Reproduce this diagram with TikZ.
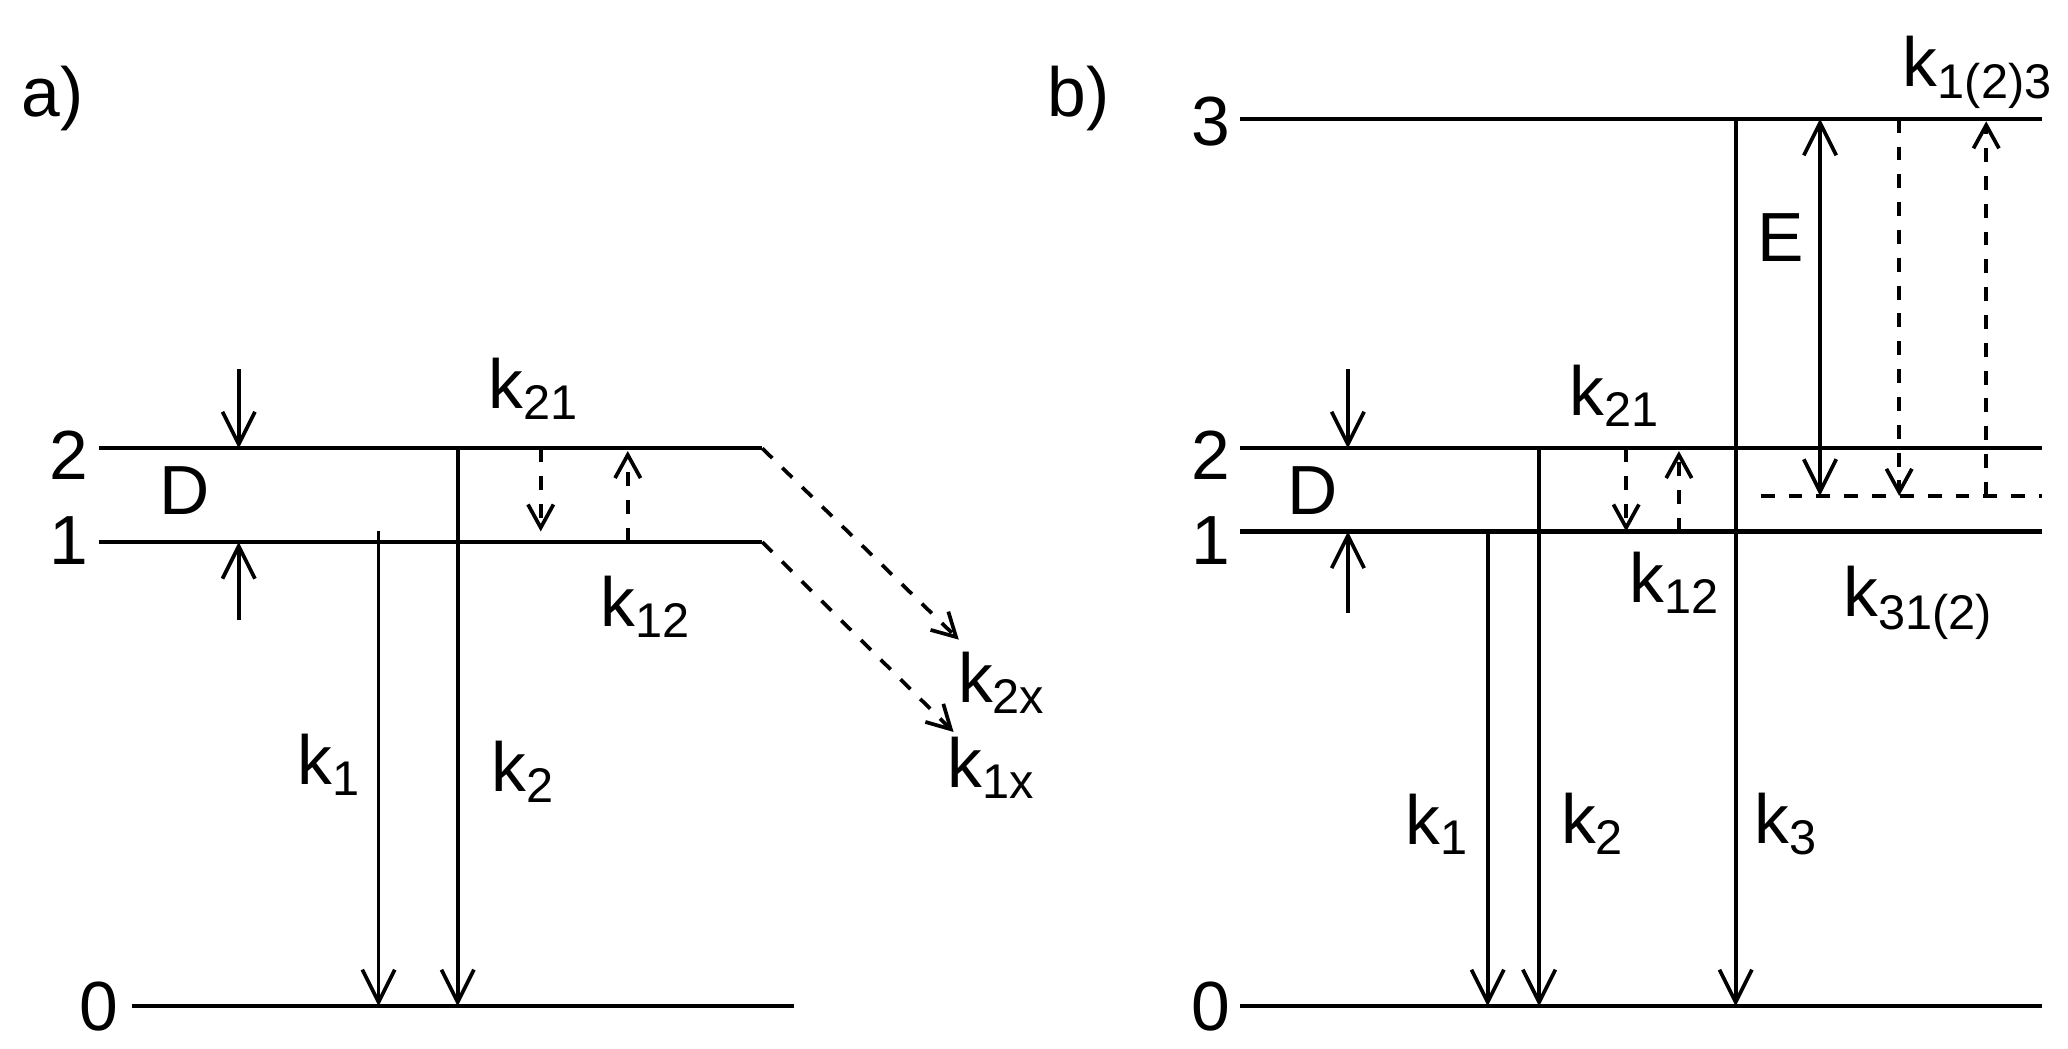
\documentclass[tikz,border=0pt]{standalone}
\usepackage{fontspec}
\setmainfont{Liberation Sans}
\usetikzlibrary{arrows.meta}
\begin{document}
\begin{tikzpicture}[x=0.01cm,y=-0.01cm,
 lvl/.style={line width=0.9pt},
 arr/.style={line width=0.8pt,-{Straight Barb[length=7pt,width=7pt]}},
 darr/.style={line width=0.8pt,dashed,-{Straight Barb[length=5pt,width=5.5pt]}},
 dl/.style={line width=0.8pt,dashed},
 lab/.style={font=\fontsize{15}{18}\selectfont,inner sep=0pt}]
\useasboundingbox (0,0) rectangle (1568,795);
% ---- panel a
\node[lab] (pa) at (40,75) {a)};
\coordinate (a2l) at (75,340); \coordinate (a2r) at (578,340);
\coordinate (a1l) at (75,411); \coordinate (a1r) at (578,411);
\coordinate (a0l) at (100,763); \coordinate (a0r) at (602,763);
\draw[lvl] (a2l)--(a2r); \draw[lvl] (a1l)--(a1r); \draw[lvl] (a0l)--(a0r);
\node[lab] (n2a) at (52,345) {2}; \node[lab] (n1a) at (52,410) {1}; \node[lab] (n0a) at (75,763) {0};
\node[lab] (Da) at (140,372) {D};
\coordinate (aDt) at (181,280); \coordinate (aDt2) at (181,340);
\coordinate (aDb) at (181,470); \coordinate (aDb2) at (181,411);
\draw[arr] (aDt)--(aDt2); \draw[arr] (aDb)--(aDb2);
\node[lab] (k21a) at (405,295) {k\textsubscript{21}};
\node[lab] (k12a) at (490,460) {k\textsubscript{12}};
\draw[darr] (410,340)--(410,403);
\draw[darr] (476,411)--(476,342);
\draw[arr] (287,403)--(287,763);
\draw[arr] (347,340)--(347,763);
\node[lab] (k1a) at (250,580) {k\textsubscript{1}};
\node[lab] (k2a) at (397,585) {k\textsubscript{2}};
\draw[darr] (a2r)--(727,485);
\draw[darr] (a1r)--(723,555);
\node[lab] (k2x) at (760,518) {k\textsubscript{2x}};
\node[lab] (k1x) at (752,582) {k\textsubscript{1x}};
% ---- panel b
\node[lab] (pb) at (818,75) {b)};
\draw[lvl] (940,90)--(1548,90);
\draw[lvl] (940,340)--(1548,340);
\draw[lvl] (940,403)--(1548,403);
\draw[lvl] (940,763)--(1548,763);
\draw[dl] (1335,376)--(1548,376);
\node[lab] (n3b) at (918,92) {3}; \node[lab] (n2b) at (918,345) {2};
\node[lab] (n1b) at (918,410) {1}; \node[lab] (n0b) at (918,763) {0};
\node[lab] (Db) at (995,372) {D};
\draw[arr] (1022,280)--(1022,340); \draw[arr] (1022,465)--(1022,403);
\draw[arr] (1128,403)--(1128,763);
\draw[arr] (1167,340)--(1167,763);
\draw[arr] (1316,90)--(1316,763);
\node[lab] (k1b) at (1090,625) {k\textsubscript{1}};
\node[lab] (k2b) at (1208,625) {k\textsubscript{2}};
\node[lab] (k3b) at (1355,625) {k\textsubscript{3}};
\node[lab] (k21b) at (1225,300) {k\textsubscript{21}};
\node[lab] (k12b) at (1270,442) {k\textsubscript{12}};
\draw[darr] (1233,340)--(1233,403);
\draw[darr] (1273,403)--(1273,342);
\draw[arr,{Straight Barb[length=7pt,width=7pt]}-{Straight Barb[length=7pt,width=7pt]}] (1380,90)--(1380,376);
\node[lab] (Eb) at (1350,180) {E};
\draw[darr] (1440,90)--(1440,376);
\draw[darr] (1506,376)--(1506,92);
\node[lab] (k123) at (1500,55) {k\textsubscript{1(2)3}};
\node[lab] (k312) at (1455,457) {k\textsubscript{31(2)}};
\end{tikzpicture}
\end{document}
